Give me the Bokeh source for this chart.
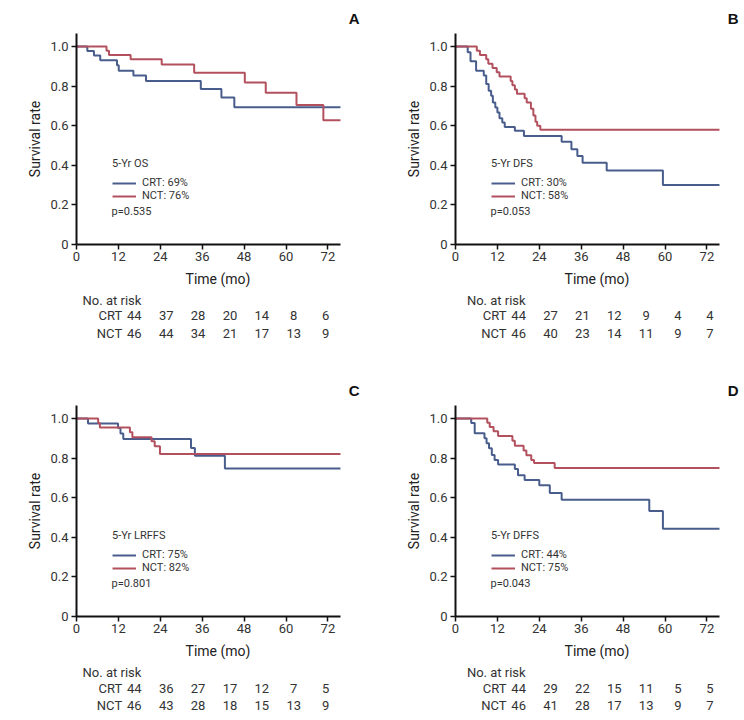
from bokeh.plotting import figure
from bokeh.layouts import column, row
from bokeh.models import (Range1d, FixedTicker, Legend, LegendItem, Label,
                          CustomJSTickFormatter)
from bokeh.core.properties import value
from bokeh.embed import file_html
from bokeh.resources import INLINE

# ---------------- data ----------------
month_ticks = [0, 12, 24, 36, 48, 60, 72]
rate_ticks = [0, 0.2, 0.4, 0.6, 0.8, 1.0]
follow_up_end = 75.6

panel_letters = ["A", "B", "C", "D"]
endpoints = ["5-Yr OS", "5-Yr DFS", "5-Yr LRFFS", "5-Yr DFFS"]
crt_rates = ["69%", "30%", "75%", "44%"]
nct_rates = ["76%", "58%", "82%", "75%"]
p_values = ["0.535", "0.053", "0.801", "0.043"]

# Kaplan-Meier step points (time of drop, survival after drop)
crt_a_time = [3.1, 5.0, 6.8, 11.6, 12.1, 16.3, 19.9, 35.6, 41.5, 45.2]
crt_a_surv = [0.977, 0.955, 0.930, 0.905, 0.878, 0.853, 0.826, 0.785, 0.742, 0.693]
nct_a_time = [8.6, 9.3, 15.5, 24.4, 33.7, 48.2, 54.2, 63.0, 70.7]
nct_a_surv = [0.978, 0.957, 0.935, 0.909, 0.868, 0.818, 0.767, 0.704, 0.627]

crt_b_time = [3.5, 4.3, 5.9, 8.1, 8.8, 9.5, 10.2, 10.7, 11.4, 12.0, 12.6, 13.4,
              14.1, 17.0, 19.6, 30.4, 33.2, 34.9, 36.4, 43.3, 59.4]
crt_b_surv = [0.971, 0.926, 0.878, 0.853, 0.810, 0.777, 0.751, 0.717, 0.692, 0.667,
              0.638, 0.616, 0.594, 0.574, 0.548, 0.519, 0.481, 0.447, 0.413, 0.374, 0.300]
nct_b_time = [6.1, 7.0, 8.8, 9.4, 10.6, 11.8, 12.6, 15.8, 16.3, 17.0, 17.6, 19.8,
              20.4, 21.6, 22.3, 22.9, 23.4, 24.3]
nct_b_surv = [0.978, 0.957, 0.935, 0.913, 0.891, 0.870, 0.848, 0.826, 0.804, 0.783,
              0.761, 0.739, 0.717, 0.685, 0.652, 0.620, 0.600, 0.579]

crt_c_time = [3.3, 11.9, 12.6, 13.4, 32.8, 33.9, 42.5]
crt_c_surv = [0.975, 0.952, 0.924, 0.896, 0.851, 0.812, 0.748]
nct_c_time = [6.2, 6.7, 15.3, 16.0, 21.5, 22.4, 23.9]
nct_c_surv = [0.977, 0.955, 0.930, 0.905, 0.885, 0.860, 0.821]

crt_d_time = [4.5, 5.5, 8.3, 8.9, 9.6, 10.4, 11.2, 12.2, 17.0, 17.9, 19.8, 24.0,
              27.0, 30.4, 55.5, 59.4]
crt_d_surv = [0.977, 0.925, 0.900, 0.875, 0.850, 0.816, 0.790, 0.768, 0.745, 0.714,
              0.689, 0.663, 0.624, 0.590, 0.533, 0.443]
nct_d_time = [9.1, 9.8, 10.9, 12.2, 16.3, 17.0, 19.5, 20.3, 21.7, 22.5, 28.4]
nct_d_surv = [0.978, 0.957, 0.935, 0.912, 0.887, 0.863, 0.838, 0.814, 0.790, 0.775, 0.750]

# Number at risk at 0, 12, ..., 72 months
crt_risk_a = [44, 37, 28, 20, 14, 8, 6]
nct_risk_a = [46, 44, 34, 21, 17, 13, 9]
crt_risk_b = [44, 27, 21, 12, 9, 4, 4]
nct_risk_b = [46, 40, 23, 14, 11, 9, 7]
crt_risk_c = [44, 36, 27, 17, 12, 7, 5]
nct_risk_c = [46, 43, 28, 18, 15, 13, 9]
crt_risk_d = [44, 29, 22, 15, 11, 5, 5]
nct_risk_d = [46, 41, 28, 17, 13, 9, 7]

# ---------------- style / layout ----------------
FONT = "Roboto"
TXT = "#333333"
CRT_COLOR = "#485d8c"
NCT_COLOR = "#b3505e"
PX_PER_MONTH = 41.9 / 12
PX_PER_UNIT = 198.0
COL_W = 372
FRAME_H = 211
KM_TOP = 33
KM_BOTTOM = 46
KM_H = KM_TOP + FRAME_H + KM_BOTTOM


def km_figure(letter, endpoint, crt_t, crt_s, nct_t, nct_s, crt_rate, nct_rate,
              pval, left_b, right_b):
    frame_w = COL_W - left_b - right_b
    p = figure(width=COL_W, height=KM_H,
               x_range=Range1d(0, frame_w / PX_PER_MONTH),
               y_range=Range1d(0, FRAME_H / PX_PER_UNIT),
               output_backend="svg", toolbar_location=None,
               min_border_left=left_b, min_border_right=right_b,
               min_border_top=KM_TOP, min_border_bottom=KM_BOTTOM,
               title=letter)
    p.outline_line_color = None
    p.grid.visible = False
    p.background_fill_color = "white"
    p.border_fill_color = "white"

    p.title.align = "right"
    p.title.text_font = "Liberation Sans"
    p.title.text_font_size = "15px"
    p.title.text_font_style = "bold"
    p.title.text_color = "#111111"
    p.title.standoff = 13

    xs_c = [0] + crt_t + [follow_up_end]
    ys_c = [1.0] + crt_s + [crt_s[-1]]
    xs_n = [0] + nct_t + [follow_up_end]
    ys_n = [1.0] + nct_s + [nct_s[-1]]
    r_c = p.step(xs_c, ys_c, mode="after", line_color=CRT_COLOR, line_width=2)
    r_n = p.step(xs_n, ys_n, mode="after", line_color=NCT_COLOR, line_width=2)

    for ax in (p.xaxis[0], p.yaxis[0]):
        ax.axis_line_width = 2
        ax.axis_line_color = "#111111"
        ax.major_tick_line_color = "#111111"
        ax.major_tick_line_width = 1.5
        ax.major_tick_out = 5
        ax.major_tick_in = 0
        ax.minor_tick_line_color = None
        ax.major_label_text_font = FONT
        ax.major_label_text_font_size = "13px"
        ax.major_label_text_color = TXT
        ax.axis_label_text_font = FONT
        ax.axis_label_text_font_size = "14px"
        ax.axis_label_text_font_style = "normal"
        ax.axis_label_text_color = "#222222"

    p.xaxis.ticker = FixedTicker(ticks=month_ticks)
    p.xaxis.bounds = (0, follow_up_end)
    p.xaxis.axis_label = "Time (mo)"
    p.xaxis.major_label_standoff = 2
    p.xaxis.axis_label_standoff = 7

    p.yaxis.ticker = FixedTicker(ticks=rate_ticks)
    p.yaxis.formatter = CustomJSTickFormatter(
        code="return tick == 0 ? '0' : tick.toFixed(1);")
    p.yaxis.axis_label = "Survival rate"
    p.yaxis.major_label_standoff = 3
    p.yaxis.axis_label_standoff = 4

    legend = Legend(
        items=[LegendItem(label=f"CRT: {crt_rate}", renderers=[r_c]),
               LegendItem(label=f"NCT: {nct_rate}", renderers=[r_n])],
        title=endpoint, location=(36, 42), orientation="vertical",
        padding=0, margin=0, spacing=0,
        glyph_width=24, glyph_height=12, label_height=12, label_width=20,
        label_standoff=6, title_standoff=6,
        border_line_alpha=0, background_fill_alpha=0,
        label_text_font=FONT, label_text_font_size="11px", label_text_color=TXT,
        title_text_font=FONT, title_text_font_size="11px",
        title_text_font_style="normal", title_text_color=TXT)
    p.add_layout(legend)

    p.add_layout(Label(x=35 / PX_PER_MONTH, y=33.5 / PX_PER_UNIT,
                       text=f"p={pval}", text_font=FONT, text_font_size="11px",
                       text_color=TXT, text_baseline="middle"))
    return p


def risk_figure(crt_risk, nct_risk, left_b, height, rows_y):
    p = figure(width=COL_W, height=height,
               x_range=Range1d(-left_b / PX_PER_MONTH, (COL_W - left_b) / PX_PER_MONTH),
               y_range=Range1d(height, 0),
               output_backend="svg", toolbar_location=None,
               x_axis_type=None, y_axis_type=None,
               min_border_left=0, min_border_right=0,
               min_border_top=0, min_border_bottom=0)
    p.outline_line_color = None
    p.grid.visible = False
    y_head, y_crt, y_nct = rows_y
    common = dict(text_font=value(FONT), text_font_size=value("13px"),
                  text_color=TXT, text_baseline="middle")
    p.text(x=[-68 / PX_PER_MONTH], y=[y_head], text=["No. at risk"],
           text_align="left", **common)
    p.text(x=[-16 / PX_PER_MONTH] * 2, y=[y_crt, y_nct], text=["CRT", "NCT"],
           text_align="right", **common)
    p.text(x=month_ticks, y=[y_crt] * len(month_ticks),
           text=[str(v) for v in crt_risk], text_align="center", **common)
    p.text(x=month_ticks, y=[y_nct] * len(month_ticks),
           text=[str(v) for v in nct_risk], text_align="center", **common)
    return p


LEFT_B = (76, 13)
RIGHT_B = (83, 6)
TOP_RISK_H = 372 - KM_H
BOTTOM_RISK_H = 720 - 372 - KM_H

km_a = km_figure("A", endpoints[0], crt_a_time, crt_a_surv, nct_a_time, nct_a_surv,
                 crt_rates[0], nct_rates[0], p_values[0], *LEFT_B)
km_b = km_figure("B", endpoints[1], crt_b_time, crt_b_surv, nct_b_time, nct_b_surv,
                 crt_rates[1], nct_rates[1], p_values[1], *RIGHT_B)
km_c = km_figure("C", endpoints[2], crt_c_time, crt_c_surv, nct_c_time, nct_c_surv,
                 crt_rates[2], nct_rates[2], p_values[2], *LEFT_B)
km_d = km_figure("D", endpoints[3], crt_d_time, crt_d_surv, nct_d_time, nct_d_surv,
                 crt_rates[3], nct_rates[3], p_values[3], *RIGHT_B)

risk_a = risk_figure(crt_risk_a, nct_risk_a, LEFT_B[0], TOP_RISK_H, (9.5, 25, 42.7))
risk_b = risk_figure(crt_risk_b, nct_risk_b, RIGHT_B[0], TOP_RISK_H, (9.5, 25, 42.7))
risk_c = risk_figure(crt_risk_c, nct_risk_c, LEFT_B[0], BOTTOM_RISK_H, (9.5, 26, 43))
risk_d = risk_figure(crt_risk_d, nct_risk_d, RIGHT_B[0], BOTTOM_RISK_H, (9.5, 26, 43))

layout = column(
    row(column(km_a, risk_a), column(km_b, risk_b)),
    row(column(km_c, risk_c), column(km_d, risk_d)),
)

open("out.html", "w").write(file_html(layout, INLINE))
